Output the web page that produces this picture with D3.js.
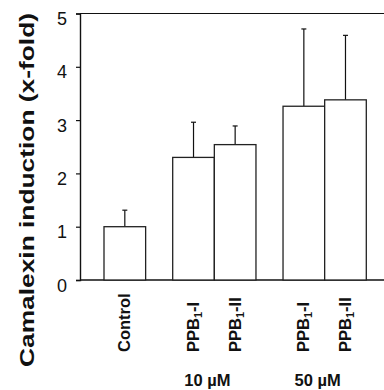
<!DOCTYPE html>
<html>
<head>
<meta charset="utf-8">
<script src="https://cdn.jsdelivr.net/npm/d3@7"></script>
<style>
  html, body { margin: 0; padding: 0; background: #fff; }
  svg { display: block; }
  text { font-family: "Liberation Sans", Arial, sans-serif; fill: #111; }
</style>
</head>
<body>
<svg id="chart" width="384" height="390"></svg>
<script>
// ---- data ----
const groups = ["Control", "10 µM", "50 µM"];
const groupLabels = ["", "10 µM", "50 µM"];
const barGroup = [0, 1, 1, 2, 2];
const barNames = ["Control", "PPB1-I", "PPB1-II", "PPB1-I", "PPB1-II"];
const means = [1.0, 2.30, 2.54, 3.26, 3.38];
const errors = [0.31, 0.66, 0.35, 1.45, 1.21];
const yTicks = [0, 1, 2, 3, 4, 5];
const yTitle = "Camalexin induction (x-fold)";

// ---- layout ----
const svg = d3.select("#chart");
const W = 384;
const axisX = 80, plotTop = 13.5, plotBottom = 280;
const firstBar = 104, lastBar = 366.3;
const gapUnits = 0.65;

const y = d3.scaleLinear().domain([0, 5]).range([plotBottom, plotTop]);

// slot positions (units) computed from group structure
const slotStart = [];
let u = 0;
barGroup.forEach((g, i) => {
  if (i > 0 && g !== barGroup[i - 1]) u += gapUnits;
  slotStart.push(u);
  u += 1;
});
const x = d3.scaleLinear().domain([0, u]).range([firstBar, lastBar]);
const bw = x(1) - x(0);

// top frame line
svg.append("line")
  .attr("x1", axisX).attr("x2", W).attr("y1", y(5)).attr("y2", y(5))
  .attr("stroke", "#111").attr("stroke-width", 1.2);

// y axis
const yAxis = d3.axisLeft(y).tickValues(yTicks).tickSize(4).tickPadding(9).tickFormat(d3.format("d"));
const ga = svg.append("g").attr("transform", `translate(${axisX},0)`).call(yAxis);
ga.select(".domain").attr("stroke", "#111").attr("stroke-width", 1.4);
ga.selectAll(".tick line").attr("stroke", "#111").attr("stroke-width", 1.2);
ga.selectAll(".tick text")
  .attr("font-size", 18).attr("fill", "#111")
  .attr("font-family", "Liberation Sans, Arial, sans-serif")
  .attr("dy", "0.62em");

// x axis baseline
svg.append("line")
  .attr("x1", axisX).attr("x2", W).attr("y1", y(0)).attr("y2", y(0))
  .attr("stroke", "#111").attr("stroke-width", 1.4);

// bars
const bars = svg.append("g");
means.forEach((m, i) => {
  const x0 = x(slotStart[i]);
  const cx = x0 + bw / 2;
  // error bar
  bars.append("line")
    .attr("x1", cx).attr("x2", cx)
    .attr("y1", y(m)).attr("y2", y(m + errors[i]))
    .attr("stroke", "#111").attr("stroke-width", 1.2);
  bars.append("line")
    .attr("x1", cx - 2.5).attr("x2", cx + 2.5)
    .attr("y1", y(m + errors[i])).attr("y2", y(m + errors[i]))
    .attr("stroke", "#111").attr("stroke-width", 1.2);
  bars.append("rect")
    .attr("x", x0).attr("y", y(m))
    .attr("width", bw).attr("height", y(0) - y(m))
    .attr("fill", "#fff").attr("stroke", "#222").attr("stroke-width", 1.3);
});

// bar labels (rotated)
barNames.forEach((name, i) => {
  const cx = x(slotStart[i]) + bw / 2;
  const t = svg.append("text")
    .attr("transform", `translate(${cx + 5.5},352) rotate(-90)`)
    .attr("text-anchor", "start")
    .attr("font-size", 16.5).attr("font-weight", "bold");
  const m = name.match(/^(PPB)(1)(.*)$/);
  if (m) {
    t.append("tspan").text(m[1]);
    t.append("tspan").text(m[2]).attr("font-size", 11).attr("dy", 3);
    t.append("tspan").text(m[3]).attr("dy", -3);
  } else {
    t.text(name);
  }
});

// group labels
groups.forEach((g, gi) => {
  if (!groupLabels[gi]) return;
  const idx = barGroup.map((v, i) => v === gi ? i : -1).filter(v => v >= 0);
  const left = x(slotStart[idx[0]]);
  const right = x(slotStart[idx[idx.length - 1]]) + bw;
  svg.append("text")
    .attr("x", (left + right) / 2 - 7).attr("y", 386)
    .attr("text-anchor", "middle")
    .attr("font-size", 16.5).attr("font-weight", "bold")
    .text(groupLabels[gi]);
});

// y title
svg.append("text")
  .attr("transform", `translate(34,${(12 + 368) / 2}) rotate(-90)`)
  .attr("text-anchor", "middle")
  .attr("font-size", 21).attr("font-weight", "bold")
  .attr("textLength", 354).attr("lengthAdjust", "spacingAndGlyphs")
  .text(yTitle);
</script>
</body>
</html>
